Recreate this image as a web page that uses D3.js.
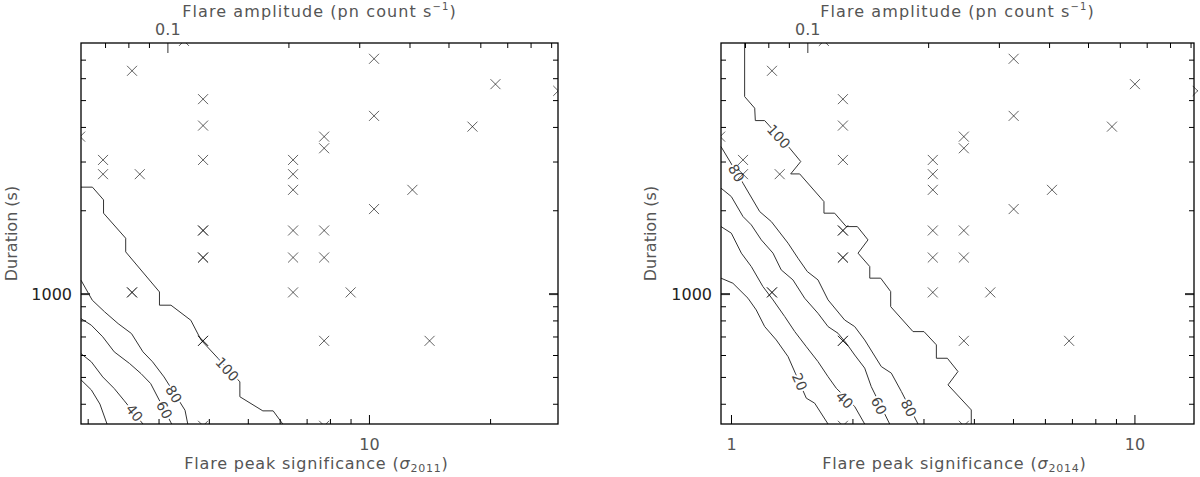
<!DOCTYPE html>
<html><head><meta charset="utf-8">
<script src="https://cdn.jsdelivr.net/npm/d3@7"></script>
<style>
body{margin:0;background:#fff}
svg{display:block}
text{font-family:"DejaVu Sans","Liberation Sans",sans-serif}
</style>
</head><body>
<svg id="chart" width="1200" height="477"></svg>
<script>
// ---------------- data ----------------
// flares: amplitude (pn count s^-1) and duration (s) -- identical in both panels
const flareAmplitude = [0.110, 0.0817, 0.1227, 0.1227, 0.0607, 0.2454, 0.2454, 0.0692, 0.1227, 0.2054,
  0.0692, 0.0854, 0.2054, 0.2054, 0.1227, 0.1227, 0.2054, 0.2454, 0.1227, 0.1227,
  0.2054, 0.2454, 0.0817, 0.0817, 0.2054, 0.2856, 0.1227, 0.1227, 0.2454, 0.1227,
  0.2454, 0.3265, 0.3265, 0.6543, 0.5736, 0.9374, 0.4067, 0.3265, 0.4487];
const flareDuration = [8180, 6380, 5040, 4045, 3690, 3690, 3350, 3040, 3040, 3040,
  2700, 2700, 2700, 2370, 1690, 1690, 1690, 1690, 1350, 1350,
  1350, 1350, 1010, 1010, 1010, 1010, 675, 675, 675, 333,
  333, 7050, 4385, 5710, 4010, 5400, 2370, 2020, 675];

// axis ticks
const amplitudeTicks = [0.07, 0.08, 0.09, 0.1, 0.2, 0.3, 0.4, 0.5, 0.6, 0.7, 0.8, 0.9];
const amplitudeLabels = [0.1];
const durationTicks = [400, 500, 600, 700, 800, 900, 1000, 2000, 3000, 4000, 5000, 6000, 7000];
const durationLabels = [1000];
const sigma2011Ticks = [2, 3, 4, 5, 6, 7, 8, 9, 10, 20];
const sigma2011Labels = [10];
const sigma2014Ticks = [1, 2, 3, 4, 5, 6, 7, 8, 9, 10];
const sigma2014Labels = [1, 10];

// detection-efficiency contours, [sigma, duration]
const contour2011_100 = [[1.925,2424],[2.055,2424],[2.190,2181],[2.190,1952],[2.486,1585],[2.486,1415],[3.016,1014],[3.016,908],[3.221,908],[3.609,801],[3.828,679],[4.778,480],[4.778,424],[5.449,377],[5.780,377],[6.107,338]];
const contour2011_80 = [[1.925,1118],[2.053,947],[2.204,859],[2.381,779],[2.570,717],[2.744,616],[2.899,567],[3.096,500],[3.491,379],[3.546,338]];
const contour2011_60 = [[1.925,812],[2.042,769],[2.180,698],[2.328,616],[2.542,559],[2.714,514],[2.868,473],[3.234,338]];
const contour2011_40 = [[1.925,607],[2.042,567],[2.180,500],[2.328,454],[2.460,412],[2.744,338]];
const contour2011_20 = [[1.925,488],[2.042,449],[2.145,399],[2.234,338]];
// label anchors [sigma, duration, level]
const contourLabels2011 = [[4.445,533,100],[3.272,433,80],[3.101,380,60],[2.614,371,40]];

const contour2014_100 = [[1.081,8040],[1.081,5148],[1.145,4675],[1.149,4217],[1.212,4217],[1.398,3352],[1.489,2999],[1.406,2706],[1.480,2706],[1.700,2149],[1.700,1952],[1.807,1952],[1.931,1746],[2.057,1746],[2.186,1563],[2.065,1400],[2.208,1252],[2.208,1137],[2.350,1137],[2.488,1017],[2.488,897],[2.826,729],[3.009,729],[3.229,653],[3.229,584],[3.438,584],[3.653,523],[3.451,468],[3.941,380],[3.941,338]];
const contour2014_80 = [[0.9446,3396],[1.071,2505],[1.178,1978],[1.259,1820],[1.385,1521],[1.466,1342],[1.546,1201],[1.643,1121],[1.740,949],[1.913,803],[2.026,760],[2.145,680],[2.358,545],[2.497,516],[2.644,443],[2.908,338]];
const contour2014_60 = [[0.9446,2404],[1.002,2241],[1.071,1898],[1.123,1771],[1.189,1563],[1.271,1400],[1.332,1218],[1.424,1121],[1.523,962],[1.643,849],[1.740,760],[1.842,719],[1.931,662],[2.026,600],[2.145,538],[2.227,461],[2.474,338]];
const contour2014_40 = [[0.9446,1746],[1.002,1653],[1.061,1400],[1.123,1252],[1.200,1060],[1.271,949],[1.359,826],[1.439,729],[1.537,643],[1.643,568],[1.740,501],[1.824,455],[2.026,391],[2.145,338]];
const contour2014_20 = [[0.9446,1137],[1.011,1090],[1.102,962],[1.155,873],[1.212,760],[1.295,680],[1.385,592],[1.537,419],[1.612,402],[1.740,338]];
const contourLabels2014 = [[1.313,3692,100],[1.031,2723,80],[2.757,386,80],[2.327,393,60],[1.913,413,40],[1.480,480,20]];

// ---------------- drawing ----------------
const svg = d3.select("#chart");
const TEXT = "#555";

const panels = [
  {id: "a", x0: 81, x1: 558, ampDomain: [0.0610, 0.936], sigDomain: [1.925, 29.5],
   sigTicks: sigma2011Ticks, sigLabels: sigma2011Labels, year: "2011",
   contours: [[100, contour2011_100],[80, contour2011_80],[60, contour2011_60],[40, contour2011_40],[20, contour2011_20]],
   labels: contourLabels2011, clipRight: 558, yTitleX: 11},
  {id: "b", x0: 721, x1: 1194, ampDomain: [0.0610, 0.918], sigDomain: [0.9446, 14.05],
   sigTicks: sigma2014Ticks, sigLabels: sigma2014Labels, year: "2014",
   contours: [[100, contour2014_100],[80, contour2014_80],[60, contour2014_60],[40, contour2014_40],[20, contour2014_20]],
   labels: contourLabels2014, clipRight: 1198, yTitleX: 650}
];
const y0 = 43, y1 = 424;

panels.forEach(p => {
  const xA = d3.scaleLog().domain(p.ampDomain).range([p.x0, p.x1]);
  const xS = d3.scaleLog().domain(p.sigDomain).range([p.x0, p.x1]);
  const y = d3.scaleLog().domain([338, 8040]).range([y1, y0]);
  const g = svg.append("g");

  svg.append("clipPath").attr("id", "clip-" + p.id)
    .append("rect").attr("x", p.x0).attr("y", y0)
    .attr("width", p.clipRight - p.x0).attr("height", y1 - y0);

  // contours
  const line = d3.line().x(d => xS(d[0])).y(d => y(d[1]));
  p.contours.forEach(([lvl, pts]) => {
    g.append("path").attr("d", line(pts)).attr("fill", "none")
      .attr("stroke", "#333").attr("stroke-width", 1);
  });
  // contour labels, oriented along nearest segment
  p.labels.forEach(([s, d, lvl]) => {
    const pts = p.contours.find(c => c[0] === lvl)[1].map(q => [xS(q[0]), y(q[1])]);
    const lx = xS(s), ly = y(d);
    let best = null, bd = 1e9;
    for (let i = 0; i < pts.length - 1; i++) {
      const mx = (pts[i][0] + pts[i+1][0]) / 2, my = (pts[i][1] + pts[i+1][1]) / 2;
      const dd = Math.hypot(mx - lx, my - ly);
      const len = Math.hypot(pts[i+1][0]-pts[i][0], pts[i+1][1]-pts[i][1]);
      if (len > 4 && dd < bd) { bd = dd; best = [pts[i], pts[i+1]]; }
    }
    let ang = Math.atan2(best[1][1] - best[0][1], best[1][0] - best[0][0]) * 180 / Math.PI;
    if (ang > 90) ang -= 180; if (ang < -90) ang += 180;
    g.append("text").attr("transform", `translate(${lx},${ly}) rotate(${ang})`)
      .attr("text-anchor", "middle").attr("dominant-baseline", "central")
      .attr("font-size", 14).attr("fill", "#444")
      .attr("stroke", "#fff").attr("stroke-width", 4).attr("paint-order", "stroke")
      .text(lvl);
  });

  // markers
  const mk = g.append("g").attr("clip-path", `url(#clip-${p.id})`);
  const r = 5;
  flareAmplitude.forEach((a, i) => {
    const cx = xA(a), cy = y(flareDuration[i]);
    mk.append("path")
      .attr("d", `M${cx-r},${cy-r}L${cx+r},${cy+r}M${cx-r},${cy+r}L${cx+r},${cy-r}`)
      .attr("stroke", "#000").attr("stroke-opacity", 0.62).attr("stroke-width", 1).attr("fill", "none");
  });

  const styleAxis = (sel) => {
    sel.select(".domain").remove();
    sel.selectAll(".tick line").attr("stroke", "#000");
    sel.selectAll(".tick text").attr("fill", TEXT).attr("font-size", 16)
      .attr("font-family", '"DejaVu Sans", sans-serif');
  };
  // bottom (sigma)
  g.append("g").attr("transform", `translate(0,${y1})`)
    .call(d3.axisBottom(xS).tickValues(p.sigTicks.filter(t => !p.sigLabels.includes(t))).tickSize(-5).tickFormat(""))
    .call(styleAxis);
  g.append("g").attr("transform", `translate(0,${y1})`)
    .call(d3.axisBottom(xS).tickValues(p.sigLabels).tickSize(-9).tickPadding(14.5).tickFormat(d3.format("~g")))
    .call(styleAxis);
  // top (amplitude)
  g.append("g").attr("transform", `translate(0,${y0})`)
    .call(d3.axisTop(xA).tickValues(amplitudeTicks.filter(t => !amplitudeLabels.includes(t))).tickSize(-5).tickFormat(""))
    .call(styleAxis);
  g.append("g").attr("transform", `translate(0,${y0})`)
    .call(d3.axisTop(xA).tickValues(amplitudeLabels).tickSize(-10).tickPadding(8).tickFormat(d3.format("~g")))
    .call(styleAxis)
    .selectAll(".tick line").attr("stroke", "#777").attr("stroke-width", 1.5);
  // left / right (duration)
  [["L", p.x0, d3.axisLeft], ["R", p.x1, d3.axisRight]].forEach(([side, xx, ax]) => {
    g.append("g").attr("transform", `translate(${xx},0)`)
      .call(ax(y).tickValues(durationTicks.filter(t => !durationLabels.includes(t))).tickSize(-5).tickFormat(""))
      .call(styleAxis);
    const maj = g.append("g").attr("transform", `translate(${xx},0)`)
      .call(ax(y).tickValues(durationLabels).tickSize(-9).tickPadding(side === "L" ? 9 : 0)
        .tickFormat(side === "L" ? d3.format("~g") : ""))
      .call(styleAxis);
    maj.selectAll(".tick line").attr("stroke-width", 2).attr("stroke", "#333");
    maj.selectAll(".tick text").attr("fill", "#222").attr("dy", "0.38em");
  });

  // frame
  g.append("rect").attr("x", p.x0).attr("y", y0).attr("width", p.x1 - p.x0).attr("height", y1 - y0)
    .attr("fill", "none").attr("stroke", "#000").attr("stroke-width", 1.3);

  // titles
  const cx = (p.x0 + p.x1) / 2;
  const tt = g.append("text").attr("x", cx).attr("y", 17).attr("text-anchor", "middle")
    .attr("font-size", 16).attr("fill", TEXT).attr("letter-spacing", 1.1);
  tt.append("tspan").text("Flare amplitude (pn count s");
  tt.append("tspan").attr("font-size", 10).attr("dy", -7).text("\u22121");
  tt.append("tspan").attr("dy", 7).text(")");

  const bt = g.append("text").attr("x", cx - 3).attr("y", 469).attr("text-anchor", "middle")
    .attr("font-size", 16).attr("fill", TEXT).attr("letter-spacing", 0.8);
  bt.append("tspan").text("Flare peak significance (");
  bt.append("tspan").attr("font-style", "italic").text("\u03C3");
  bt.append("tspan").attr("font-size", 11).attr("dy", 3).text(p.year);
  bt.append("tspan").attr("dy", -3).text(")");

  g.append("text").attr("transform", `translate(${p.yTitleX},${(y0 + y1) / 2}) rotate(-90)`)
    .attr("text-anchor", "middle").attr("dominant-baseline", "central")
    .attr("font-size", 16).attr("fill", TEXT).text("Duration (s)");
});
</script>
</body></html>
